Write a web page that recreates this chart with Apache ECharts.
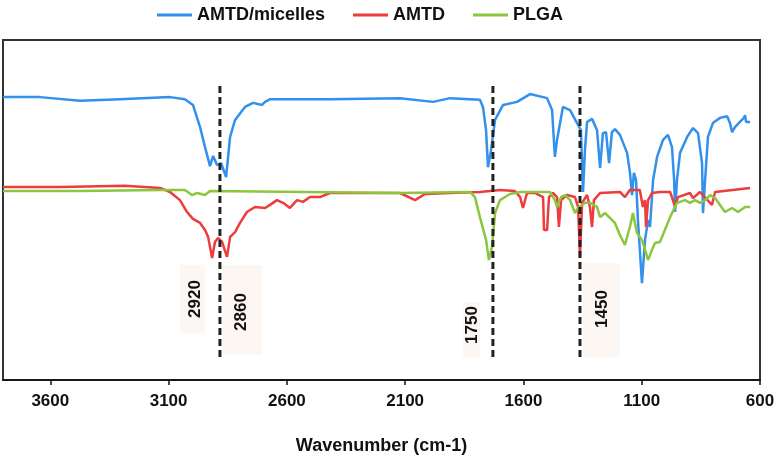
<!DOCTYPE html>
<html>
<head>
<meta charset="utf-8">
<script src="https://cdn.jsdelivr.net/npm/echarts@6/dist/echarts.min.js"></script>
<style>html,body{margin:0;padding:0;background:#fff}#c{width:778px;height:462px}</style>
</head>
<body>
<div id="c"></div>
<script>
var seriesNames = ['AMTD/micelles', 'AMTD', 'PLGA'];
var tickValues = [600, 1100, 1600, 2100, 2600, 3100, 3600];
var peakLabels = ['2920', '2860', '1750', '1450'];
var markerWn = [2883, 1729, 1361];
var markerRange = [6.8, 87.6];

var micelles = [
[3800,83.2],[3644,83.2],[3474,82.1],[3305,82.6],[3094,83.2],[3031,82.6],[2997,80.9],[2967,74.4],[2946,68.5],[2925,62.9],[2912,65.9],[2895,63.2],[2878,63.8],[2857,59.7],[2840,71.5],[2819,76.5],[2777,80.3],[2743,81.5],[2705,80.9],[2692,81.8],[2671,82.6],[2418,82.6],[2122,82.9],[1982,81.8],[1910,82.9],[1784,82.4],[1771,80.3],[1758,73.5],[1750,62.6],[1737,67.6],[1720,76.5],[1686,80.9],[1627,81.8],[1572,84.1],[1500,82.9],[1479,79.4],[1467,65.6],[1458,70.6],[1433,80.3],[1403,79.4],[1374,75.6],[1357,73.5],[1348,55.3],[1340,67.6],[1331,75.9],[1310,76.8],[1289,73.5],[1276,62.4],[1264,72.6],[1251,72.9],[1238,63.8],[1226,72.9],[1213,73.8],[1192,72.1],[1162,66.8],[1150,61.2],[1141,54.4],[1133,60.9],[1124,58.8],[1116,47.1],[1099,28.5],[1086,41.2],[1073,47.1],[1065,45.0],[1052,58.8],[1035,65.6],[1010,70.6],[989,72.1],[972,68.5],[963,58.8],[959,49.4],[951,58.8],[938,66.8],[908,71.5],[883,74.1],[862,72.6],[845,63.8],[841,49.1],[832,58.8],[820,71.5],[799,75.6],[769,77.1],[739,77.6],[727,75.6],[718,72.9],[706,74.4],[685,75.9],[668,77.1],[663,77.9],[659,75.9],[642,75.9]
];

var amtd = [
[3800,56.8],[3559,56.8],[3284,57.1],[3136,56.5],[3094,55.3],[3052,52.9],[3022,49.4],[2997,47.4],[2967,46.2],[2946,44.1],[2933,42.1],[2916,35.9],[2904,40.6],[2891,41.8],[2874,40.6],[2853,36.2],[2840,42.1],[2819,43.5],[2798,46.2],[2769,49.4],[2735,50.9],[2692,50.6],[2671,51.5],[2642,52.9],[2616,52.1],[2587,50.6],[2557,52.9],[2532,52.4],[2502,53.8],[2460,53.8],[2418,55.0],[2333,55.0],[2122,55.0],[2058,52.9],[2016,54.7],[1910,55.0],[1784,55.3],[1699,55.9],[1636,55.6],[1614,53.8],[1602,50.6],[1585,55.0],[1551,55.0],[1517,53.8],[1513,44.1],[1500,44.1],[1492,53.8],[1475,55.0],[1458,53.8],[1450,45.0],[1441,52.9],[1416,54.4],[1382,53.8],[1369,50.9],[1361,36.2],[1352,52.1],[1331,54.4],[1319,50.9],[1310,45.0],[1302,52.9],[1276,55.0],[1192,55.3],[1171,53.8],[1150,55.9],[1108,55.9],[1095,50.9],[1086,52.9],[1082,45.0],[1073,52.9],[1057,55.0],[1023,55.3],[980,55.3],[968,52.9],[959,50.9],[947,53.8],[896,55.0],[883,53.5],[854,55.3],[803,51.5],[790,55.3],[642,56.5]
];

var plga = [
[3800,55.6],[3474,55.6],[3136,55.9],[3031,55.9],[3001,54.4],[2980,55.0],[2946,54.4],[2925,55.6],[2122,55.0],[1826,55.3],[1805,53.8],[1784,47.9],[1758,41.2],[1746,35.3],[1733,39.1],[1720,49.1],[1699,52.9],[1657,54.7],[1614,55.3],[1488,55.3],[1467,52.9],[1458,50.9],[1441,53.8],[1424,54.4],[1403,52.9],[1382,49.1],[1369,50.6],[1340,52.1],[1319,52.1],[1289,50.9],[1276,47.9],[1255,49.1],[1213,46.2],[1192,42.6],[1171,39.7],[1150,45.0],[1137,49.1],[1120,43.2],[1099,41.2],[1082,37.4],[1073,35.3],[1057,38.2],[1044,40.3],[1023,40.6],[1002,44.1],[980,47.9],[951,52.1],[917,52.9],[896,52.1],[875,52.9],[854,52.1],[832,52.9],[811,54.4],[790,53.5],[748,49.4],[718,50.6],[693,49.4],[663,50.9],[642,50.9]
];

var colors = ['#3390ec', '#ee3b3b', '#8cc63e'];
var FONT = '"Liberation Sans", Arial, sans-serif';

var chart = echarts.init(document.getElementById('c'), null, {renderer: 'canvas'});

var series = [micelles, amtd, plga].map(function (d, i) {
  return {
    name: seriesNames[i], type: 'line', data: d, showSymbol: false, symbol: 'none',
    lineStyle: {color: colors[i], width: 2.5}, itemStyle: {color: colors[i]},
    z: 2, animation: false
  };
});
markerWn.forEach(function (w) {
  series.push({
    type: 'line', data: [[w, markerRange[0]], [w, markerRange[1]]], symbol: 'none',
    lineStyle: {color: '#222', width: 3, type: [7, 4]}, z: 5, animation: false, silent: true
  });
});

// annotation boxes (pixel layout)
var boxes = [
  {x: 180, y: 265, w: 25, h: 68, tx: 195, ty: 299},
  {x: 222, y: 265, w: 40, h: 90, tx: 241, ty: 312},
  {x: 463, y: 302, w: 17, h: 55, tx: 472, ty: 325},
  {x: 583, y: 263, w: 37, h: 94, tx: 602, ty: 309}
];
var graphics = [];
boxes.forEach(function (b, i) {
  graphics.push({type: 'rect', shape: {x: b.x, y: b.y, width: b.w, height: b.h},
    style: {fill: '#fcf7f2'}, z: 1, silent: true});
  graphics.push({type: 'text', x: b.tx, y: b.ty, rotation: Math.PI / 2,
    style: {text: peakLabels[i], font: 'bold 17px ' + FONT, fill: '#111', align: 'center', verticalAlign: 'middle'},
    z: 10, silent: true});
});

chart.setOption({
  animation: false,
  backgroundColor: '#fff',
  legend: {
    data: seriesNames, left: 152, top: 1, icon: 'rect', itemWidth: 35, itemHeight: 3, itemGap: 28,
    textStyle: {fontFamily: FONT, fontWeight: 'bold', fontSize: 18, color: '#111'}
  },
  grid: {left: 3, right: 18, top: 40, bottom: 82, show: true, borderColor: '#333', borderWidth: 2, containLabel: false},
  xAxis: {
    type: 'value', min: 600, max: 3800, inverse: true,
    name: 'Wavenumber (cm-1)', nameLocation: 'middle', nameGap: 57,
    nameTextStyle: {fontFamily: FONT, fontWeight: 'bold', fontSize: 18, color: '#111'},
    axisLine: {show: true, lineStyle: {color: '#111', width: 1.5}},
    axisTick: {show: true, inside: false, length: 5, lineStyle: {color: '#111', width: 1.5}, customValues: tickValues},
    axisLabel: {show: true, margin: 13, fontFamily: FONT, fontWeight: 'bold', fontSize: 17, color: '#111', customValues: tickValues,
      formatter: function (v) { return String(v); }},
    splitLine: {show: false}
  },
  yAxis: {type: 'value', min: 0, max: 100, show: false, splitLine: {show: false}},
  series: series,
  graphic: graphics
});
</script>
</body>
</html>
